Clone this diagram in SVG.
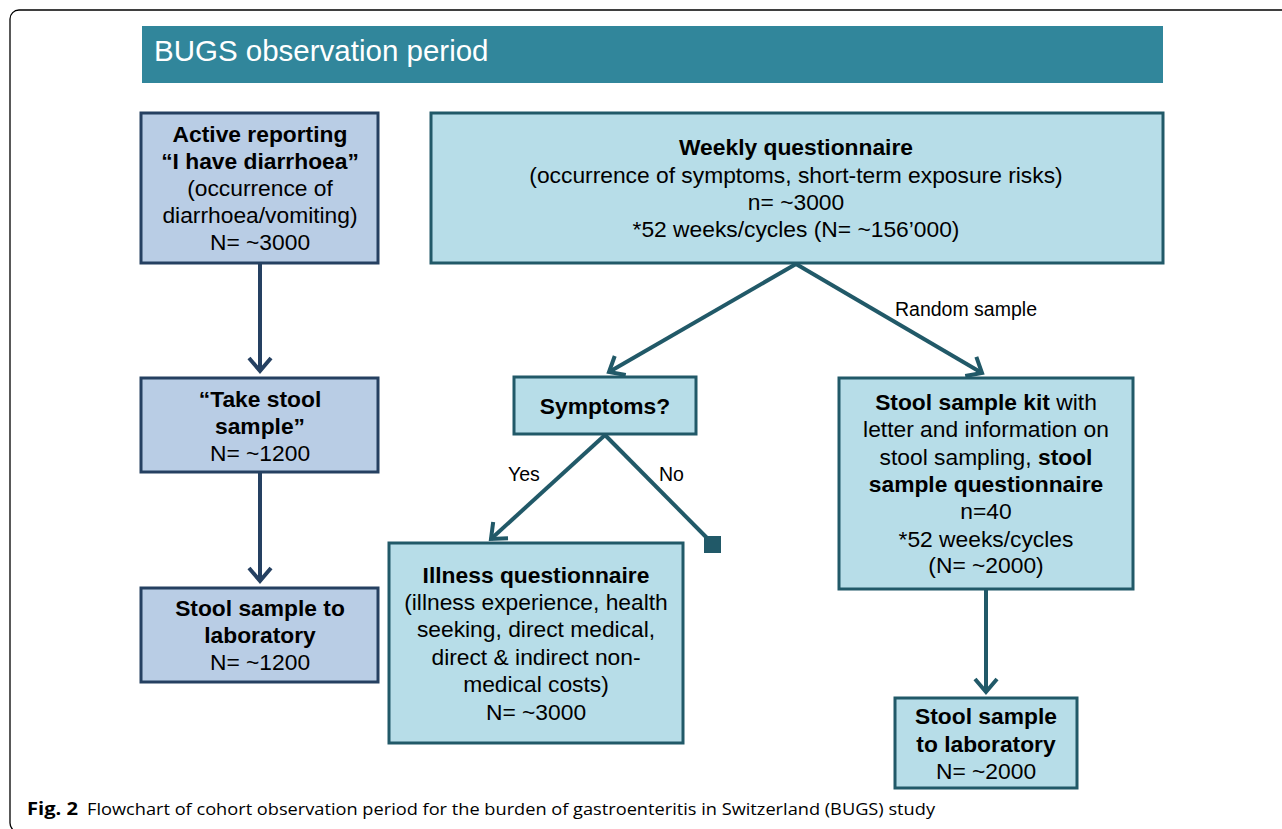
<svg xmlns="http://www.w3.org/2000/svg" width="1282" height="829" viewBox="0 0 1282 829">
<defs>
<style>
.t{font-family:"Liberation Sans",Arial,sans-serif;font-size:22.8px;fill:#000;text-anchor:middle}
.b{font-weight:bold}
.lbl{font-family:"Liberation Sans",Arial,sans-serif;font-size:19.5px;fill:#000}
.lb{fill:#b9cde5;stroke:#254061;stroke-width:3}
.rb{fill:#b7dde8;stroke:#215968;stroke-width:3}
.cl{fill:none;stroke:#254061;stroke-width:4}
.cr{fill:none;stroke:#215968;stroke-width:4}
</style>
<marker id="al" markerUnits="userSpaceOnUse" viewBox="-16 -14 20 28" refX="0" refY="0" markerWidth="20" markerHeight="28" orient="auto">
<path d="M-13,-11 L0,0 L-13,11" fill="none" stroke="#254061" stroke-width="4"/>
</marker>
<marker id="ar" markerUnits="userSpaceOnUse" viewBox="-16 -14 20 28" refX="0" refY="0" markerWidth="20" markerHeight="28" orient="auto">
<path d="M-13,-11 L0,0 L-13,11" fill="none" stroke="#215968" stroke-width="4"/>
</marker>
</defs>
<rect x="0" y="0" width="1282" height="829" fill="#fff"/>
<rect x="10" y="10" width="1300" height="822" rx="9" fill="none" stroke="#000" stroke-width="1.3"/>
<g id="title">
<rect x="142" y="26" width="1021" height="57" fill="#31869b"/>
<text x="154" y="61" font-family="'Liberation Sans',Arial,sans-serif" font-size="29.5" fill="#fff">BUGS observation period</text>
</g>
<g id="connectors">
<path class="cl" d="M260,264 L260,371" marker-end="url(#al)"/>
<path class="cl" d="M260,473 L260,581" marker-end="url(#al)"/>
<path class="cr" d="M796,264 L609,372" marker-end="url(#ar)"/>
<path class="cr" d="M796,264 L982,373" marker-end="url(#ar)"/>
<path class="cr" d="M605,435 L491,539" marker-end="url(#ar)"/>
<path class="cr" d="M605,435 L710,541"/>
<rect x="704" y="536" width="17" height="17" fill="#215968"/>
<path class="cr" d="M986,590 L986,692" marker-end="url(#ar)"/>
<text class="lbl" x="895" y="316">Random sample</text>
<text class="lbl" x="508" y="481">Yes</text>
<text class="lbl" x="659" y="481">No</text>
</g>
<g id="active">
<rect class="lb" x="141" y="113" width="237" height="150"/>
<text class="t b" x="260" y="142">Active reporting</text>
<text class="t b" x="260" y="169">“I have diarrhoea”</text>
<text class="t" x="260" y="196">(occurrence of</text>
<text class="t" x="260" y="223">diarrhoea/vomiting)</text>
<text class="t" x="260" y="250">N= ~3000</text>
</g>
<g id="take">
<rect class="lb" x="141" y="378" width="237" height="94"/>
<text class="t b" x="260" y="407">“Take stool</text>
<text class="t b" x="260" y="434">sample”</text>
<text class="t" x="260" y="461">N= ~1200</text>
</g>
<g id="lab1">
<rect class="lb" x="141" y="588" width="237" height="94"/>
<text class="t b" x="260" y="616">Stool sample to</text>
<text class="t b" x="260" y="643">laboratory</text>
<text class="t" x="260" y="670">N= ~1200</text>
</g>
<g id="weekly">
<rect class="rb" x="431" y="113" width="732" height="150"/>
<text class="t b" x="796" y="155">Weekly questionnaire</text>
<text class="t" x="796" y="183">(occurrence of symptoms, short-term exposure risks)</text>
<text class="t" x="796" y="210">n= ~3000</text>
<text class="t" x="796" y="237">*52 weeks/cycles (N= ~156’000)</text>
</g>
<g id="symptoms">
<rect class="rb" x="514" y="377" width="182" height="57"/>
<text class="t b" x="605" y="414">Symptoms?</text>
</g>
<g id="illness">
<rect class="rb" x="389" y="543" width="294" height="200"/>
<text class="t b" x="536" y="583">Illness questionnaire</text>
<text class="t" x="536" y="610">(illness experience, health</text>
<text class="t" x="536" y="637">seeking, direct medical,</text>
<text class="t" x="536" y="665">direct &amp; indirect non-</text>
<text class="t" x="536" y="692">medical costs)</text>
<text class="t" x="536" y="720">N= ~3000</text>
</g>
<g id="kit">
<rect class="rb" x="839" y="378" width="294" height="211"/>
<text class="t" x="986" y="410"><tspan class="b">Stool sample kit</tspan> with</text>
<text class="t" x="986" y="437">letter and information on</text>
<text class="t" x="986" y="465">stool sampling, <tspan class="b">stool</tspan></text>
<text class="t b" x="986" y="492">sample questionnaire</text>
<text class="t" x="986" y="519">n=40</text>
<text class="t" x="986" y="547">*52 weeks/cycles</text>
<text class="t" x="986" y="573">(N= ~2000)</text>
</g>
<g id="lab2">
<rect class="rb" x="895" y="698" width="182" height="90"/>
<text class="t b" x="986" y="724">Stool sample</text>
<text class="t b" x="986" y="752">to laboratory</text>
<text class="t" x="986" y="779">N= ~2000</text>
</g>
<g id="caption">
<text x="27" y="815" font-family="'Open Sans',sans-serif" font-size="17" font-weight="bold" fill="#000" textLength="51" lengthAdjust="spacingAndGlyphs">Fig. 2</text>
<text x="87" y="815" font-family="'Open Sans',sans-serif" font-size="17" fill="#000" textLength="848" lengthAdjust="spacingAndGlyphs">Flowchart of cohort observation period for the burden of gastroenteritis in Switzerland (BUGS) study</text>
</g>
</svg>
